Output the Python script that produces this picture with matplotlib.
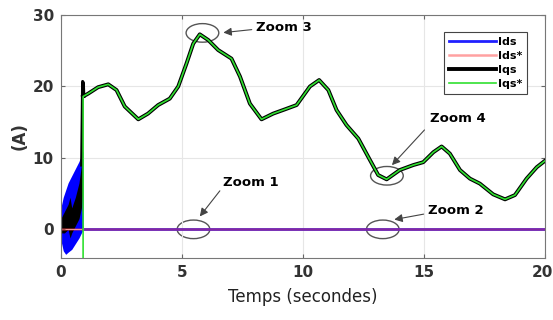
import matplotlib
matplotlib.use("Agg")
import matplotlib.pyplot as plt
import matplotlib.transforms as mtransforms
from matplotlib.patches import Ellipse

# startup envelopes (0 - 0.95 s)
t_start = [0.0, 0.1, 0.2, 0.3, 0.45, 0.6, 0.75, 0.85, 0.93]
ids_up = [3.0, 4.5, 5.5, 6.5, 7.5, 8.5, 9.5, 10.5, 11.0]
ids_lo = [-1.5, -3.0, -3.5, -3.2, -2.8, -2.0, -1.2, -0.5, 0.0]

t_qs0 = [0.0, 0.15, 0.3, 0.38, 0.45, 0.6, 0.75, 0.85, 0.9]
iqs_up = [1.5, 2.5, 3.5, 4.5, 3.0, 4.5, 6.5, 9.0, 12.0]
iqs_lo = [-0.5, -0.5, 0.0, -1.2, -0.5, 0.5, 1.5, 3.0, 5.0]

# spike at the speed step
t_spike = [0.86, 0.9, 0.93, 0.95]
iqs_spike = [9.0, 20.7, 20.5, 18.6]

# steady part of Iqs / Iqs*
t_q = [0.92, 1.13, 1.54, 1.96, 2.3, 2.64, 3.2, 3.6, 4.02, 4.5, 4.85, 5.19, 5.47,
       5.74, 6.09, 6.5, 7.05, 7.4, 7.81, 8.29, 8.77, 9.26, 9.74, 10.29, 10.67,
       11.05, 11.39, 11.8, 12.29, 12.77, 13.11, 13.46, 14.0, 14.56, 14.97, 15.39,
       15.73, 16.07, 16.49, 16.9, 17.31, 17.86, 18.35, 18.76, 19.24, 19.66, 20.0]
iqs = [18.6, 19.0, 19.9, 20.3, 19.5, 17.2, 15.4, 16.2, 17.4, 18.3, 20.0, 23.2, 26.0,
       27.3, 26.5, 25.1, 23.9, 21.4, 17.6, 15.4, 16.2, 16.8, 17.4, 20.0, 20.9,
       19.5, 16.7, 14.6, 12.7, 9.7, 7.6, 7.0, 8.3, 9.0, 9.4, 10.8,
       11.6, 10.6, 8.3, 7.1, 6.4, 4.9, 4.2, 4.8, 7.1, 8.7, 9.6]

t_ref_step = [0.0, 0.92]
iqs_ref_step = [-10.0, -10.0]

t_d = [0.92, 20.0]
ids = [0.0, 0.0]
t_dref = [0.0, 20.0]
ids_ref = [0.0, 0.0]

# zoom markers: (label, ellipse x, ellipse y, text x, text y, arrow start x, arrow start y, arrow end x, arrow end y)
zooms = [
    ("Zoom 1", 5.48, 0.0, 6.7, 6.5, 6.64, 5.7, 5.67, 1.5),
    ("Zoom 2", 13.3, 0.0, 15.18, 2.6, 15.1, 2.2, 13.66, 1.3),
    ("Zoom 3", 5.85, 27.5, 8.08, 28.2, 8.0, 28.0, 6.6, 27.5),
    ("Zoom 4", 13.47, 7.5, 15.25, 15.5, 15.1, 14.2, 13.6, 8.7),
]

fig = plt.figure(figsize=(5.53, 3.2), dpi=100)
ax = fig.add_axes([0.110, 0.194, 0.8755, 0.759])

ax.fill_between(t_start, ids_lo, ids_up, color="#0000ff", lw=0)
ax.plot(t_d, ids, color="#2020ff", lw=2.0, label="Ids")
ax.fill_between(t_qs0, iqs_lo, iqs_up, color="black", lw=0)
ax.plot(t_spike, iqs_spike, color="black", lw=2.2)
ax.plot(t_q, iqs, color="black", lw=2.8, label="Iqs")
ax.plot(t_dref, ids_ref, color="#ff3030", lw=1.8, alpha=0.45, label="Ids*")
ax.plot(t_ref_step + t_q, iqs_ref_step + iqs, color="#30e030", lw=1.2, label="Iqs*")

for name, ex, ey, tx, ty, ax0, ay0, ax1, ay1 in zooms:
    ax.add_patch(Ellipse((ex, ey), 1.35, 2.6, fill=False, ec="#555555", lw=1.0))
    ax.annotate("", xy=(ax1, ay1), xytext=(ax0, ay0),
                arrowprops=dict(arrowstyle="-|>", color="#444444", lw=0.8,
                                mutation_scale=12))
    ax.text(tx, ty, name, fontsize=9.5, fontweight="bold", va="center", ha="left")

ax.set_xlim(0, 20)
ax.set_ylim(-4, 30)
ax.set_xticks([0, 5, 10, 15, 20])
ax.set_yticks([0, 10, 20, 30])
ax.grid(True, color="#e6e6e6", lw=0.8)
ax.tick_params(direction="in", top=True, right=True, length=3, color="#666666",
               labelsize=11, labelcolor="#333333", pad=5)
for lbl in ax.get_xticklabels() + ax.get_yticklabels():
    lbl.set_fontweight("bold")
# nudge the last x label so it stays inside the figure
last = ax.get_xticklabels()[-1]
last.set_transform(last.get_transform() +
                   mtransforms.ScaledTranslation(-3 / 100, 0, fig.dpi_scale_trans))
for sp in ax.spines.values():
    sp.set_color("#777777")

ax.set_xlabel("Temps (secondes)", fontsize=12, color="#222222", labelpad=6)
ax.set_ylabel("(A)", fontsize=12, fontweight="bold", color="#333333", labelpad=3)

h, l = ax.get_legend_handles_labels()
order = [l.index(n) for n in ["Ids", "Ids*", "Iqs", "Iqs*"]]
leg = ax.legend([h[i] for i in order], [l[i] for i in order], loc="upper right",
                bbox_to_anchor=(0.975, 0.955), prop={"weight": "bold", "size": 8},
                handlelength=4.2, handletextpad=0.2, borderpad=0.45, labelspacing=0.38,
                fancybox=False, edgecolor="#444444", framealpha=1)
leg.get_frame().set_linewidth(0.8)

fig.savefig("out.png", dpi=100)
